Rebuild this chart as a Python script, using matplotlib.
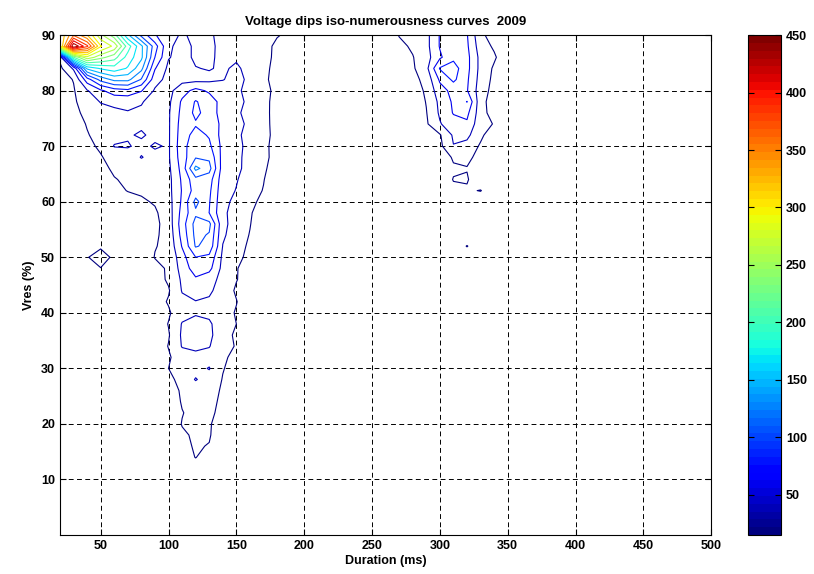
import numpy as np
import matplotlib
matplotlib.use('Agg')
import matplotlib.pyplot as plt
from matplotlib.colors import Normalize
from matplotlib.cm import ScalarMappable

plt.rcParams['font.family'] = ['Liberation Sans', 'DejaVu Sans']

# dip counts per (residual voltage, duration) cell
vres = [90, 88, 86, 84, 82, 80, 78, 76, 74, 72, 70, 68, 66, 64, 62, 60, 58, 56, 54, 52,
        50, 48, 46, 44, 42, 40, 38, 36, 34, 32, 30, 28, 26, 24, 22, 20, 18, 16, 14, 12]

# durations 20 .. 190 ms
dur_left = [20, 30, 40, 50, 60, 70, 80, 90, 100, 110, 120, 130, 140, 150, 160, 170, 180, 190]
counts_left = [
    [300, 360, 320, 260, 220, 150, 95, 60, 45, 34, 42, 40, 30, 26, 22, 19, 16, 12],
    [290, 450, 390, 300, 270, 200, 150, 90, 40, 30, 40, 42, 30, 28, 24, 20, 12, 0],
    [20, 210, 270, 240, 220, 180, 150, 80, 38, 30, 40, 40, 32, 34, 26, 22, 10, 0],
    [10, 40, 150, 170, 180, 165, 130, 60, 32, 28, 36, 38, 34, 40, 30, 20, 9, 0],
    [6, 16, 70, 110, 130, 130, 100, 45, 30, 30, 30, 32, 36, 42, 33, 19, 8, 0],
    [8, 13, 35, 55, 70, 75, 60, 34, 30, 50, 65, 55, 46, 40, 31, 21, 10, 0],
    [5, 12, 25, 38, 42, 40, 38, 30, 32, 62, 82, 70, 50, 43, 32, 20, 9, 0],
    [0, 10, 20, 28, 32, 36, 34, 28, 34, 65, 85, 72, 48, 40, 30, 19, 10, 0],
    [0, 8, 16, 24, 30, 34, 32, 26, 34, 68, 78, 75, 52, 42, 33, 21, 8, 0],
    [0, 5, 14, 20, 30, 34, 40, 30, 34, 70, 88, 78, 50, 40, 31, 20, 10, 0],
    [0, 0, 12, 17, 38, 39, 30, 40, 34, 72, 95, 85, 52, 43, 30, 19, 9, 0],
    [0, 0, 0, 14, 20, 24, 38, 28, 34, 70, 100, 98, 50, 40, 32, 20, 8, 0],
    [0, 0, 0, 10, 18, 20, 24, 22, 32, 66, 130, 110, 48, 41, 30, 18, 6, 0],
    [0, 0, 0, 0, 14, 18, 20, 22, 30, 62, 95, 90, 46, 38, 28, 16, 0, 0],
    [0, 0, 0, 0, 8, 16, 18, 20, 30, 60, 90, 85, 44, 36, 24, 14, 0, 0],
    [0, 0, 0, 0, 0, 5, 12, 17, 28, 62, 108, 82, 42, 32, 20, 10, 0, 0],
    [0, 0, 0, 0, 0, 0, 14, 12, 26, 66, 98, 80, 40, 30, 18, 0, 0, 0],
    [0, 0, 0, 0, 0, 0, 0, 10, 24, 70, 110, 108, 42, 28, 16, 0, 0, 0],
    [0, 0, 0, 0, 0, 0, 0, 12, 22, 66, 108, 100, 40, 26, 14, 0, 0, 0],
    [0, 0, 0, 10, 0, 0, 0, 14, 20, 60, 104, 95, 36, 22, 12, 0, 0, 0],
    [0, 0, 13, 30, 8, 0, 0, 16, 18, 50, 80, 75, 32, 20, 10, 0, 0, 0],
    [0, 0, 0, 14, 0, 0, 0, 8, 18, 45, 70, 65, 30, 17, 0, 0, 0, 0],
    [0, 0, 0, 0, 0, 0, 0, 6, 18, 40, 55, 45, 30, 16, 5, 0, 0, 0],
    [0, 0, 0, 0, 0, 0, 0, 5, 13, 38, 45, 40, 28, 12, 0, 0, 0, 0],
    [0, 0, 0, 0, 0, 0, 0, 5, 17, 32, 36, 34, 26, 16, 0, 0, 0, 0],
    [0, 0, 0, 0, 0, 0, 0, 5, 12, 30, 34, 32, 25, 13, 0, 0, 0, 0],
    [0, 0, 0, 0, 0, 0, 0, 0, 16, 38, 45, 40, 24, 15, 0, 0, 0, 0],
    [0, 0, 0, 0, 0, 0, 0, 0, 13, 40, 48, 42, 22, 12, 0, 0, 0, 0],
    [0, 0, 0, 0, 0, 0, 0, 0, 16, 38, 42, 38, 20, 14, 0, 0, 0, 0],
    [0, 0, 0, 0, 0, 0, 0, 0, 12, 28, 30, 28, 18, 10, 0, 0, 0, 0],
    [0, 0, 0, 0, 0, 0, 0, 0, 15, 25, 30, 38, 16, 8, 0, 0, 0, 0],
    [0, 0, 0, 0, 0, 0, 0, 0, 8, 24, 38, 28, 14, 0, 0, 0, 0, 0],
    [0, 0, 0, 0, 0, 0, 0, 0, 5, 18, 26, 24, 12, 0, 0, 0, 0, 0],
    [0, 0, 0, 0, 0, 0, 0, 0, 0, 17, 24, 22, 10, 0, 0, 0, 0, 0],
    [0, 0, 0, 0, 0, 0, 0, 0, 0, 14, 22, 20, 8, 0, 0, 0, 0, 0],
    [0, 0, 0, 0, 0, 0, 0, 0, 0, 16, 20, 18, 0, 0, 0, 0, 0, 0],
    [0, 0, 0, 0, 0, 0, 0, 0, 0, 12, 18, 17, 0, 0, 0, 0, 0, 0],
    [0, 0, 0, 0, 0, 0, 0, 0, 0, 10, 17, 14, 0, 0, 0, 0, 0, 0],
    [0, 0, 0, 0, 0, 0, 0, 0, 0, 0, 16, 0, 0, 0, 0, 0, 0, 0],
    [0, 0, 0, 0, 0, 0, 0, 0, 0, 0, 0, 0, 0, 0, 0, 0, 0, 0],
]

# no dips between 200 and 260 ms
dur_gap = [200, 210, 220, 230, 240, 250, 260]

# durations 270 .. 350 ms (rows 90 .. 62 %, below that only one cell)
dur_right = [270, 280, 290, 300, 310, 320, 330, 340, 350]
counts_right = [
    [16, 20, 30, 60, 65, 60, 20, 5, 0],
    [10, 18, 30, 60, 70, 62, 25, 12, 0],
    [0, 14, 28, 55, 75, 65, 30, 18, 0],
    [0, 12, 30, 82, 90, 65, 30, 12, 0],
    [0, 8, 22, 62, 85, 62, 28, 10, 0],
    [0, 5, 18, 50, 65, 60, 25, 8, 0],
    [0, 0, 16, 42, 62, 81, 22, 5, 0],
    [0, 0, 14, 40, 60, 64, 24, 5, 0],
    [0, 0, 12, 35, 50, 55, 22, 14, 0],
    [0, 0, 0, 13, 40, 42, 20, 0, 0],
    [0, 0, 0, 10, 36, 30, 12, 0, 0],
    [0, 0, 0, 0, 18, 20, 8, 0, 0],
    [0, 0, 0, 0, 12, 14, 0, 0, 0],
    [0, 0, 0, 0, 16, 17, 0, 0, 0],
    [0, 0, 0, 0, 10, 12, 16, 0, 0],
]
isolated_right = [(52, 320, 16)]  # (vres, duration, count)

# assemble the full grid
duration = np.array(dur_left + dur_gap + dur_right, dtype=float)
Z = np.zeros((len(vres), len(duration)))
Z[:, :len(dur_left)] = np.array(counts_left)
off = len(dur_left) + len(dur_gap)
Z[:len(counts_right), off:] = np.array(counts_right)
for v, d, c in isolated_right:
    Z[vres.index(v), off + dur_right.index(d)] = c

y = np.array(vres, dtype=float)[::-1]
Z = Z[::-1]

cmin, cmax = 15, 450
levels = np.linspace(cmin, cmax, 21)
cmap = plt.get_cmap('jet', 64)
norm = Normalize(cmin, cmax)

fig = plt.figure(figsize=(8.14, 5.74), dpi=100)
ax = fig.add_axes([0.0737, 0.0679, 0.8, 0.871])

ax.contour(duration, y, Z, levels=levels, cmap=cmap, norm=norm, linewidths=0.8)

ax.set_xlim(20, 500)
ax.set_ylim(0, 90)
ax.set_xticks(np.arange(50, 501, 50))
ax.set_yticks(np.arange(10, 91, 10))
ax.grid(True, color='black', linestyle=(0, (5, 3.5)), linewidth=0.7)
ax.tick_params(direction='in', top=True, right=True, length=4, labelsize=9)
for lab in ax.get_xticklabels() + ax.get_yticklabels():
    lab.set_fontweight('bold')
ax.set_xlabel('Duration (ms)', fontsize=9, fontweight='bold', labelpad=2)
ax.set_ylabel('Vres (%)', fontsize=9, fontweight='bold', labelpad=4)
ax.set_title('Voltage dips iso-numerousness curves  2009', fontsize=9.5,
             fontweight='bold', pad=7)

cax = fig.add_axes([0.919, 0.0679, 0.0405, 0.871])
cb = fig.colorbar(ScalarMappable(norm=norm, cmap=cmap), cax=cax)
cb.set_ticks(np.arange(50, 451, 50))
cb.ax.tick_params(direction='in', length=4, labelsize=9, left=True)
for lab in cb.ax.get_yticklabels():
    lab.set_fontweight('bold')
cb.outline.set_linewidth(0.8)

fig.savefig('out.png', dpi=100)
